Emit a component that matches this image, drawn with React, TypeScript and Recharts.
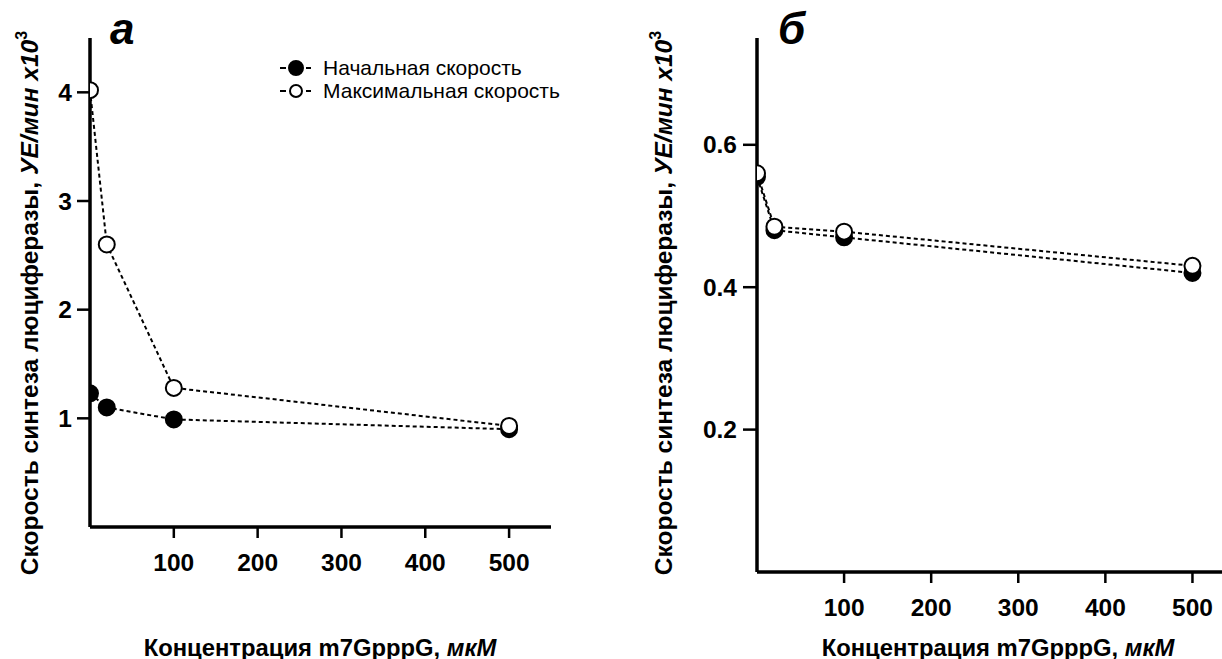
import React from 'react';
import { LineChart, Line, XAxis, YAxis, Legend } from 'recharts';

const concentrations = [0, 20, 100, 500];
const initialA = [1.23, 1.1, 0.99, 0.9];
const maxA = [4.02, 2.6, 1.28, 0.93];
const initialB = [0.555, 0.48, 0.47, 0.42];
const maxB = [0.56, 0.485, 0.478, 0.43];
const xTicks = [100, 200, 300, 400, 500];
const yTicksA = [1, 2, 3, 4];
const yTicksB = [0.2, 0.4, 0.6];
const seriesNames = ['Начальная скорость', 'Максимальная скорость'];
const panelLabels = ['а', 'б'];
const yTitleMain = 'Скорость синтеза люциферазы, ';
const yTitleUnit = 'УЕ/мин x10';
const yTitleSup = '3';
const xTitleMain = 'Концентрация m7GpppG, ';
const xTitleUnit = 'мкМ';

const FONT = '"Liberation Sans", Arial, sans-serif';

const dataA = concentrations.map((x, i) => ({ x, initial: initialA[i], max: maxA[i] }));
const dataB = concentrations.map((x, i) => ({ x, initial: initialB[i], max: maxB[i] }));

const TickText = (props: any) => {
  const { x, y, payload, textAnchor, orientation } = props;
  const isX = orientation === 'bottom';
  return (
    <text
      x={x}
      y={y}
      dy={isX ? '0.71em' : '0.355em'}
      textAnchor={textAnchor}
      fontFamily={FONT}
      fontWeight={700}
      fontSize={24.5}
      fill="#000"
    >
      {payload.value}
    </text>
  );
};

const makeYLabel = (cx: number, cy: number) => () => (
  <text
    x={cx}
    y={cy}
    transform={`rotate(-90, ${cx}, ${cy})`}
    textAnchor="middle"
    fontFamily={FONT}
    fontWeight={700}
    fontSize={24.5}
    fill="#000"
  >
    {yTitleMain}
    <tspan fontStyle="italic">{yTitleUnit}</tspan>
    <tspan dy={-11} fontSize={16}>{yTitleSup}</tspan>
  </text>
);

const makeXLabel = (cx: number, cy: number) => () => (
  <text x={cx} y={cy} textAnchor="middle" fontFamily={FONT} fontWeight={700} fontSize={23.8} fill="#000">
    {xTitleMain}
    <tspan fontStyle="italic">{xTitleUnit}</tspan>
  </text>
);

const LegendContent = (props: any) => {
  const payload = [...(props.payload || [])].sort(
    (a: any, b: any) => seriesNames.indexOf(a.value) - seriesNames.indexOf(b.value)
  );
  return (
    <div style={{ fontFamily: FONT, fontSize: 21, lineHeight: '23px', color: '#000', whiteSpace: 'nowrap' }}>
      {payload.map((entry: any, i: number) => {
        const filled = seriesNames.indexOf(entry.value) === 0;
        return (
          <div key={i} style={{ display: 'flex', alignItems: 'center', height: 23 }}>
            <svg width={45} height={23} style={{ display: 'block' }}>
              <line x1={2} y1={12} x2={8} y2={12} stroke="#000" strokeWidth={2} />
              <circle cx={18} cy={12} r={filled ? 7 : 6} fill={filled ? '#000' : '#fff'} stroke="#000" strokeWidth={2} />
              <line x1={28} y1={12} x2={33} y2={12} stroke="#000" strokeWidth={2} />
            </svg>
            <span>{entry.value}</span>
          </div>
        );
      })}
    </div>
  );
};

const filledDot = { r: 8, fill: '#000', stroke: '#000', strokeWidth: 2, strokeDasharray: '0' };
const openDot = { r: 8, fill: '#fff', stroke: '#000', strokeWidth: 2, strokeDasharray: '0' };

const axisLineStyle = { stroke: '#000', strokeWidth: 3.5 };
const tickLineStyle = { stroke: '#000', strokeWidth: 2.5 };

const panelStyle = (left: number): React.CSSProperties => ({
  position: 'absolute',
  left,
  top: 7,
  fontFamily: FONT,
  fontWeight: 700,
  fontStyle: 'italic',
  fontSize: 44,
  lineHeight: '44px',
  color: '#000',
});

export default function App() {
  return (
    <div
      style={{
        position: 'absolute',
        left: 0,
        top: 0,
        width: 1222,
        height: 659,
        overflow: 'hidden',
        background: '#fff',
      }}
    >
      <div style={{ position: 'absolute', left: 0, top: 0 }}>
        <LineChart width={551} height={659} data={dataA} margin={{ top: 38, right: 0, left: 0, bottom: 0 }}>
          <XAxis
            dataKey="x"
            type="number"
            domain={[0, 550]}
            ticks={xTicks}
            allowDataOverflow
            height={86}
            stroke="#000"
            axisLine={axisLineStyle}
            tickLine={tickLineStyle}
            tickSize={11}
            tickMargin={16}
            tick={<TickText />}
            label={makeXLabel(320, 656)}
          />
          <YAxis
            type="number"
            domain={[0, 4.5]}
            ticks={yTicksA}
            width={90}
            stroke="#000"
            axisLine={axisLineStyle}
            tickLine={tickLineStyle}
            tickSize={13}
            tickMargin={5}
            tick={<TickText />}
            label={makeYLabel(38, 303)}
          />
          <Legend
            content={LegendContent}
            wrapperStyle={{ position: 'absolute', left: 278, top: 56, width: 320 }}
          />
          <Line
            name={seriesNames[0]}
            dataKey="initial"
            type="linear"
            stroke="#000"
            strokeWidth={2}
            strokeDasharray="4 3"
            dot={filledDot}
            activeDot={false}
            isAnimationActive={false}
          />
          <Line
            name={seriesNames[1]}
            dataKey="max"
            type="linear"
            stroke="#000"
            strokeWidth={2}
            strokeDasharray="4 3"
            dot={openDot}
            activeDot={false}
            isAnimationActive={false}
          />
        </LineChart>
      </div>
      <div style={panelStyle(110)}>{panelLabels[0]}</div>

      <div style={{ position: 'absolute', left: 620, top: 0 }}>
        <LineChart width={616} height={659} data={dataB} margin={{ top: 38, right: 0, left: 0, bottom: 0 }}>
          <XAxis
            dataKey="x"
            type="number"
            domain={[0, 550]}
            ticks={xTicks}
            allowDataOverflow
            height={87}
            stroke="#000"
            axisLine={axisLineStyle}
            tickLine={tickLineStyle}
            tickSize={11}
            tickMargin={16}
            tick={<TickText />}
            label={makeXLabel(378, 656)}
          />
          <YAxis
            type="number"
            domain={[0, 0.75]}
            ticks={yTicksB}
            width={137}
            stroke="#000"
            axisLine={axisLineStyle}
            tickLine={tickLineStyle}
            tickSize={14}
            tickMargin={6}
            tick={<TickText />}
            label={makeYLabel(52, 303)}
          />
          <Line
            name={seriesNames[0]}
            dataKey="initial"
            type="linear"
            stroke="#000"
            strokeWidth={2}
            strokeDasharray="4 3"
            dot={filledDot}
            activeDot={false}
            isAnimationActive={false}
          />
          <Line
            name={seriesNames[1]}
            dataKey="max"
            type="linear"
            stroke="#000"
            strokeWidth={2}
            strokeDasharray="4 3"
            dot={openDot}
            activeDot={false}
            isAnimationActive={false}
          />
        </LineChart>
      </div>
      <div style={panelStyle(778)}>{panelLabels[1]}</div>
    </div>
  );
}
